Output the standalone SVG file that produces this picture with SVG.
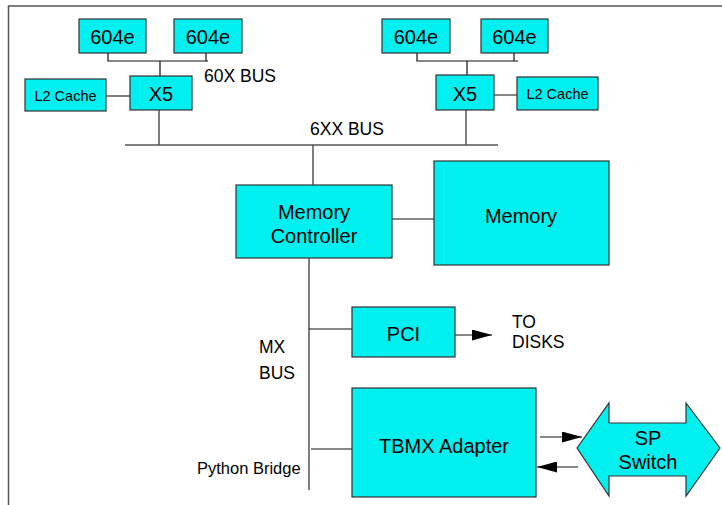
<svg xmlns="http://www.w3.org/2000/svg" width="722" height="505" viewBox="0 0 722 505">
<defs>
<style>
.box{fill:#00f0f0;stroke:#333;stroke-width:1.2}
.ln{stroke:#555;stroke-width:1.5;fill:none}
.lk{stroke:#111;stroke-width:1.2;fill:none}
text{font-family:"Liberation Sans",Arial,sans-serif;fill:#000}
.t20{font-size:20px;text-anchor:middle}
.t18{font-size:17.5px}
.t15{font-size:14.5px;text-anchor:middle}
</style>
<marker id="ah" viewBox="0 0 20 11" refX="20" refY="5.5" markerWidth="20" markerHeight="11" markerUnits="userSpaceOnUse" orient="auto">
<path d="M0,0 L20,5.5 L0,11 Z" fill="#000"/>
</marker>
</defs>
<rect width="722" height="505" fill="#fff"/>
<g id="frame">
<path class="ln" d="M8.5,510 V6 H730" stroke="#555"/>
</g>
<g id="connectors">
<path class="lk" d="M108,53 V61 H208 M206,53 V61 M160,61 V76"/>
<path class="ln" d="M106,96 H130 M159,110 V145"/>
<path class="lk" d="M417,53 V61 H518 M514,53 V61 M467,61 V76 M494,95 H517"/>
<path class="ln" d="M466,110 V145 M125,145 H498 M313,145 V185"/>
<path class="lk" d="M392,219 H434"/>
<path class="ln" d="M309,258 V490"/>
<path class="lk" d="M309,329 H352 M311,449 H353"/>
<path class="lk" d="M455,335 H492" marker-end="url(#ah)"/>
<path class="lk" d="M540,437 H582" marker-end="url(#ah)"/>
<path class="lk" d="M578,467 H537" marker-end="url(#ah)"/>
</g>
<g id="cpu1"><rect class="box" x="79" y="19" width="67" height="34"/><text class="t20" x="112.5" y="44">604e</text></g>
<g id="cpu2"><rect class="box" x="174" y="19" width="68" height="34"/><text class="t20" x="208" y="44">604e</text></g>
<g id="cpu3"><rect class="box" x="382" y="19" width="68" height="34"/><text class="t20" x="416" y="44">604e</text></g>
<g id="cpu4"><rect class="box" x="481" y="19" width="67" height="34"/><text class="t20" x="514.5" y="44">604e</text></g>
<g id="x5a"><rect class="box" x="130" y="76" width="62" height="34"/><text class="t20" x="161" y="101">X5</text></g>
<g id="x5b"><rect class="box" x="436" y="75" width="58" height="35"/><text class="t20" x="465" y="101">X5</text></g>
<g id="l2a"><rect class="box" x="25" y="79" width="81" height="32"/><text class="t15" x="65.5" y="101">L2 Cache</text></g>
<g id="l2b"><rect class="box" x="517" y="77" width="81" height="33"/><text class="t15" x="557.5" y="99">L2 Cache</text></g>
<g id="lbl60x"><text class="t18" x="204" y="82">60X BUS</text></g>
<g id="lbl6xx"><text class="t18" x="310" y="135">6XX BUS</text></g>
<g id="memctl"><rect class="box" x="236" y="185" width="156" height="73"/><text class="t20" x="314" y="219">Memory</text><text class="t20" x="314" y="243">Controller</text></g>
<g id="memory"><rect class="box" x="434" y="161" width="175" height="104"/><text class="t20" x="521" y="223">Memory</text></g>
<g id="pci"><rect class="box" x="352" y="307" width="103" height="50"/><text class="t20" x="403.5" y="341">PCI</text></g>
<g id="disks"><text class="t18" x="512" y="328">TO</text><text class="t18" x="512" y="348">DISKS</text></g>
<g id="mxbus"><text class="t18" x="259" y="353">MX</text><text class="t18" x="259" y="379">BUS</text></g>
<g id="tbmx"><rect class="box" x="352" y="388" width="184" height="109"/><text class="t20" x="444" y="453">TBMX Adapter</text></g>
<g id="python"><text x="197" y="474" style="font-size:16.5px">Python Bridge</text></g>
<g id="spswitch"><path class="box" d="M577,448 L609,403 V423 H686 V403 L720,448 L686,496 V476 H609 V496 Z"/><text class="t20" x="648" y="445">SP</text><text class="t20" x="648" y="469">Switch</text></g>
</svg>
